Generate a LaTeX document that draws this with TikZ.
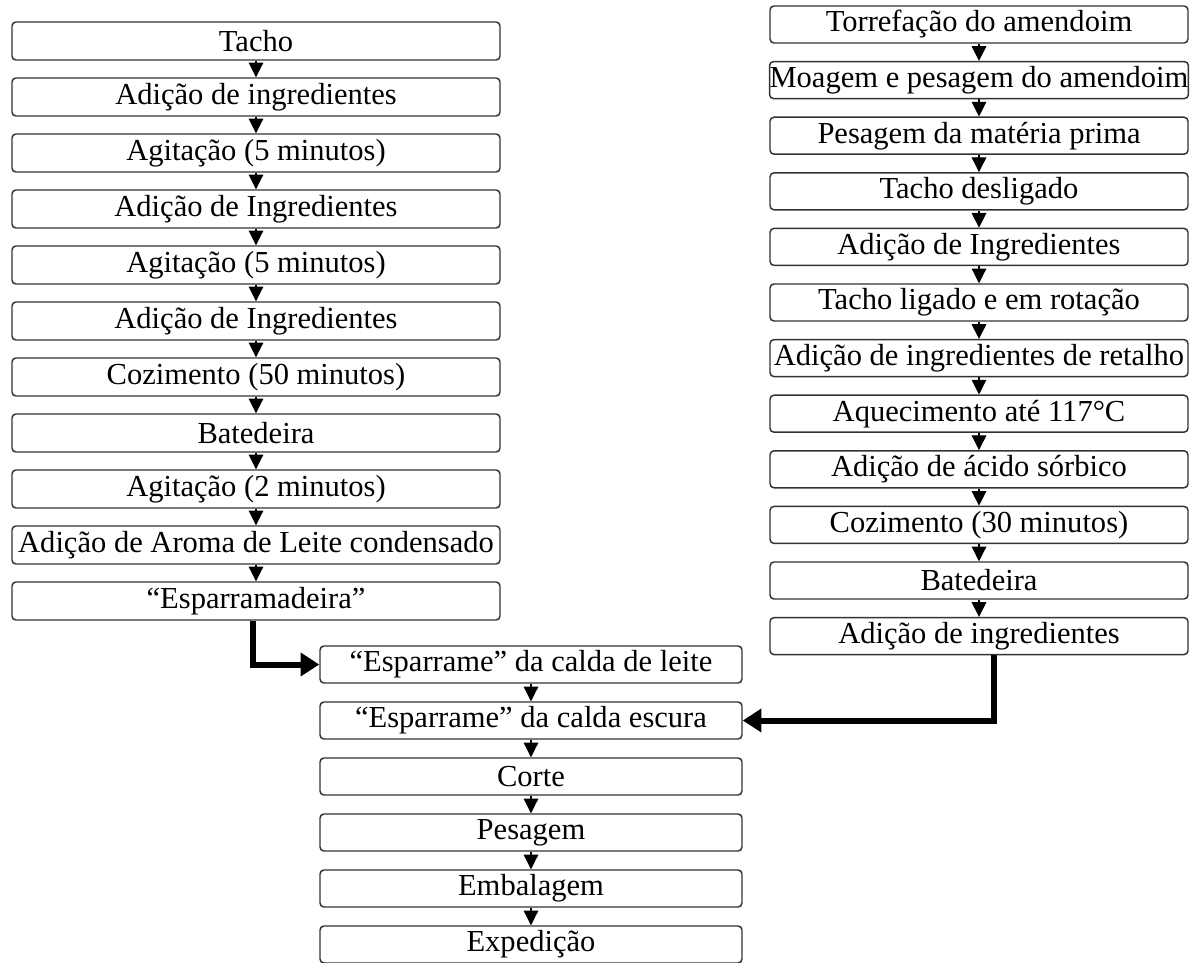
\documentclass[tikz,border=0pt]{standalone}
\usepackage{fontspec}
\setmainfont{Liberation Serif}
\usetikzlibrary{arrows.meta}
\begin{document}
\begin{tikzpicture}[x=0.75pt,y=-0.75pt,
  box/.style={draw=black!80,line width=1.1pt,rounded corners=3pt,inner sep=0pt,
    font=\fontsize{22.9}{25}\selectfont},
  small/.style={line width=0.8pt,-{Triangle[width=11pt,length=11pt]}},
  thick/.style={line width=4.5pt,-{Triangle[width=17pt,length=14pt]}}]
\useasboundingbox (0,0) rectangle (1200,963);
% left column
\foreach \t [count=\i from 0] in {Tacho,Adição de ingredientes,Agitação (5 minutos),Adição de Ingredientes,Agitação (5 minutos),Adição de Ingredientes,Cozimento (50 minutos),Batedeira,Agitação (2 minutos),Adição de Aroma de Leite condensado,“Esparramadeira”}{
  \node[box,minimum width=488pt*0.75,minimum height=38*0.75pt] (L\i) at (256,{41+56*\i}) {\t};
}
\foreach \i [evaluate=\i as \j using int(\i+1)] in {0,...,9}{
  \draw[small] (L\i.south) -- (L\j.north);
}
% right column
\foreach \t [count=\i from 0] in {Torrefação do amendoim,Moagem e pesagem do amendoim,Pesagem da matéria prima,Tacho desligado,Adição de Ingredientes,Tacho ligado e em rotação,Adição de ingredientes de retalho,Aquecimento até 117°C,Adição de ácido sórbico,Cozimento (30 minutos),Batedeira,Adição de ingredientes}{
  \node[box,minimum width=418*0.75pt,minimum height=37*0.75pt] (R\i) at (979,{24.5+55.6*\i}) {\t};
}
\foreach \i [evaluate=\i as \j using int(\i+1)] in {0,...,10}{
  \draw[small] (R\i.south) -- (R\j.north);
}
% middle column
\foreach \t [count=\i from 0] in {“Esparrame” da calda de leite,“Esparrame” da calda escura,Corte,Pesagem,Embalagem,Expedição}{
  \node[box,minimum width=422*0.75pt,minimum height=37*0.75pt] (M\i) at (531,{664.5+56*\i}) {\t};
}
\foreach \i [evaluate=\i as \j using int(\i+1)] in {0,...,4}{
  \draw[small] (M\i.south) -- (M\j.north);
}
% thick connectors
\draw[thick] (L10.south -| 253,0) |- (M0.west);
\draw[thick] (R11.south -| 994,0) |- (M1.east);
\end{tikzpicture}
\end{document}
